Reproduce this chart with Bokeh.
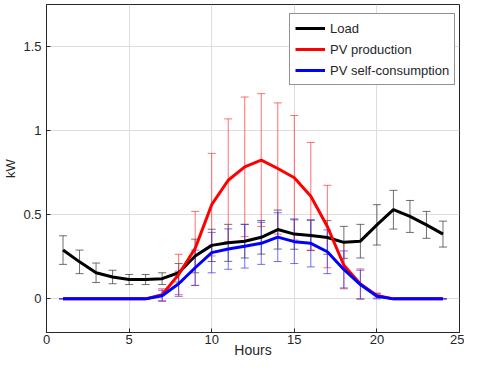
from bokeh.plotting import figure
from bokeh.models import (ColumnDataSource, Whisker, TeeHead, Legend, LegendItem,
                          FixedTicker, Range1d)
from bokeh.embed import file_html
from bokeh.resources import INLINE

hours = list(range(1, 25))
load = [0.29, 0.22, 0.155, 0.13, 0.115, 0.115, 0.12, 0.155, 0.255, 0.318, 0.333, 0.343,
        0.366, 0.412, 0.385, 0.377, 0.365, 0.336, 0.343, 0.44, 0.53, 0.49, 0.44, 0.385]
load_std = [0.085, 0.07, 0.058, 0.04, 0.03, 0.03, 0.035, 0.055, 0.1, 0.096, 0.11, 0.1,
            0.1, 0.116, 0.09, 0.09, 0.1, 0.095, 0.1, 0.12, 0.115, 0.095, 0.08, 0.077]
pv = [0, 0, 0, 0, 0, 0, 0.025, 0.145, 0.30, 0.56, 0.705, 0.785, 0.825, 0.775, 0.72,
      0.61, 0.43, 0.2, 0.088, 0.02, 0, 0, 0, 0]
pv_std = [0, 0, 0, 0, 0, 0, 0.035, 0.12, 0.22, 0.305, 0.365, 0.415, 0.395, 0.39, 0.37,
          0.32, 0.245, 0.14, 0.09, 0.015, 0, 0, 0, 0]
selfc = [0, 0, 0, 0, 0, 0, 0.018, 0.09, 0.185, 0.275, 0.296, 0.313, 0.33, 0.367, 0.34,
         0.33, 0.28, 0.175, 0.085, 0.015, 0, 0, 0, 0]
selfc_std = [0, 0, 0, 0, 0, 0, 0.033, 0.075, 0.105, 0.12, 0.12, 0.13, 0.125, 0.145, 0.13,
             0.14, 0.13, 0.11, 0.085, 0.015, 0, 0, 0, 0]
series_names = ["Load", "PV production", "PV self-consumption"]
x_ticks = [0, 5, 10, 15, 20, 25]
y_ticks = [0, 0.5, 1, 1.5]

FONT = "Liberation Sans"
AX = "#262626"

p = figure(width=464, height=360, output_backend="svg", toolbar_location=None,
           x_range=Range1d(0, 25), y_range=Range1d(-0.2, 1.75),
           min_border_left=45, min_border_right=5, min_border_top=4, min_border_bottom=27)
p.background_fill_color = "white"
p.border_fill_color = "white"
p.outline_line_color = AX
p.outline_line_width = 1

for ax in (p.xaxis[0], p.yaxis[0]):
    ax.axis_line_color = AX
    ax.major_tick_line_color = AX
    ax.major_tick_in = 4
    ax.major_tick_out = 0
    ax.minor_tick_line_color = None
    ax.major_label_text_font = FONT
    ax.major_label_text_font_size = "13px"
    ax.major_label_text_color = AX
    ax.axis_label_text_font = FONT
    ax.axis_label_text_font_style = "normal"
    ax.axis_label_text_color = AX

p.xaxis.ticker = FixedTicker(ticks=x_ticks)
p.yaxis.ticker = FixedTicker(ticks=y_ticks)
p.xaxis.axis_label = "Hours"
p.yaxis.axis_label = "kW"
p.xaxis.axis_label_text_font_size = "14px"
p.yaxis.axis_label_text_font_size = "13px"
p.xaxis.major_label_standoff = 2
p.xaxis.axis_label_standoff = -5
p.yaxis.major_label_standoff = 5
p.yaxis.axis_label_standoff = 2
p.xgrid.grid_line_color = "#dedede"
p.ygrid.grid_line_color = "#dedede"

colors = ["#000000", "#ff0000", "#0000ff"]
bar_colors = ["#333333", "#ff3333", "#3333ff"]
means = [load, pv, selfc]
stds = [load_std, pv_std, selfc_std]
items = []
for name, m, s, c, bc in zip(series_names, means, stds, colors, bar_colors):
    src = ColumnDataSource(dict(x=hours, y=m,
                                upper=[a + b for a, b in zip(m, s)],
                                lower=[a - b for a, b in zip(m, s)]))
    r = p.line("x", "y", source=src, line_color=c, line_width=3)
    w = Whisker(source=src, base="x", upper="upper", lower="lower",
                line_color=bc, line_alpha=0.7, line_width=1,
                upper_head=TeeHead(size=8, line_color=bc, line_alpha=0.7, line_width=1),
                lower_head=TeeHead(size=8, line_color=bc, line_alpha=0.7, line_width=1))
    p.add_layout(w)
    items.append(LegendItem(label=name, renderers=[r]))

legend = Legend(items=items, location=(243, 247))
legend.label_text_font = FONT
legend.label_text_font_size = "13px"
legend.label_text_color = AX
legend.border_line_color = AX
legend.border_line_width = 1
legend.background_fill_color = "white"
legend.background_fill_alpha = 1
legend.glyph_width = 30
legend.glyph_height = 18
legend.label_height = 18
legend.spacing = 3
legend.padding = 5
legend.margin = 0
legend.label_standoff = 5
p.add_layout(legend)

open("out.html", "w").write(file_html(p, INLINE))
